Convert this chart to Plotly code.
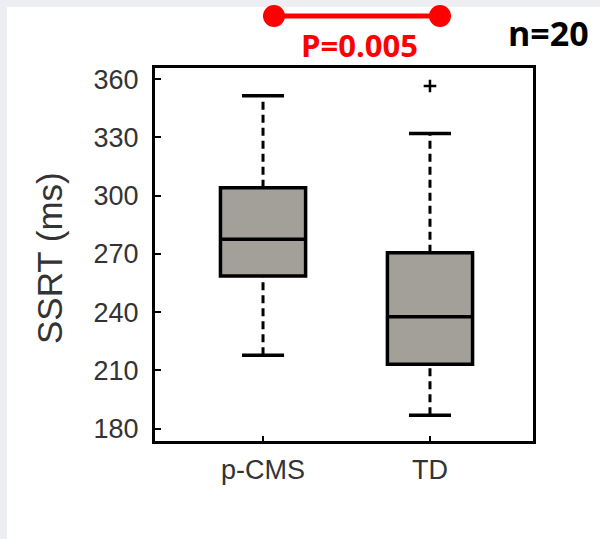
import plotly.graph_objects as go

# ---- data ----
groups = ["p-CMS", "TD"]
xpos = [1, 2]
q1 = [258.6, 213.2]
median = [277.5, 237.6]
q3 = [304.1, 270.6]
lower_whisker = [217.8, 186.9]
upper_whisker = [351.5, 332.0]
outlier_x = [2]
outlier_y = [356.5]
y_ticks = [180, 210, 240, 270, 300, 330, 360]

box_fill = "#a39f99"
fig = go.Figure()

# dashed whiskers and caps
cap_half = 0.126
for i in range(len(groups)):
    x = xpos[i]
    for a, b in [(q3[i], upper_whisker[i]), (lower_whisker[i], q1[i])]:
        fig.add_trace(go.Scatter(x=[x, x], y=[a, b], mode="lines",
                                 line=dict(color="black", width=3, dash="8px,5px"),
                                 showlegend=False, hoverinfo="skip"))
    for w in (upper_whisker[i], lower_whisker[i]):
        fig.add_trace(go.Scatter(x=[x - cap_half, x + cap_half], y=[w, w], mode="lines",
                                 line=dict(color="black", width=3.5),
                                 showlegend=False, hoverinfo="skip"))

fig.add_trace(go.Box(
    x=xpos, q1=q1, median=median, q3=q3,
    lowerfence=q1, upperfence=q3,
    fillcolor=box_fill, line=dict(color="black", width=3.5),
    width=0.51, whiskerwidth=0, boxpoints=False, showlegend=False,
))

fig.add_trace(go.Scatter(x=outlier_x, y=outlier_y, mode="markers",
                         marker=dict(symbol="cross-thin", size=9,
                                     line=dict(color="black", width=2.5)),
                         showlegend=False))

# plot area in pixel terms: left 155, right 533, top 68, bottom 441
L, R, T, B = 155, 533, 68, 441
W, H = R - L, B - T
def px(x):
    return (x - L) / W
def py(y):
    return (B - y) / H

shapes = [
    dict(type="rect", xref="paper", yref="paper", x0=px(7), x1=px(600),
         y0=py(539), y1=py(7), fillcolor="white", line=dict(width=0), layer="below"),
    dict(type="line", xref="paper", yref="paper", x0=px(274), x1=px(440),
         y0=py(16), y1=py(16), line=dict(color="#ff0000", width=5)),
]
for cx in (274, 440):
    shapes.append(dict(type="circle", xref="paper", yref="paper",
                       xsizemode="pixel", ysizemode="pixel",
                       xanchor=px(cx), yanchor=py(16),
                       x0=-11, x1=11, y0=-11, y1=11,
                       fillcolor="#ff0000", line=dict(color="#ff0000", width=0)))

annotations = [
    dict(text="<b>P=0.005</b>", xref="paper", yref="paper", x=px(359), y=py(45),
         showarrow=False, font=dict(family="Open Sans", size=31, color="#ff0000"),
         xanchor="center", yanchor="middle"),
    dict(text="<b>n=20</b>", xref="paper", yref="paper", x=px(548), y=py(33),
         showarrow=False, font=dict(family="Open Sans", size=34, color="black"),
         xanchor="center", yanchor="middle"),
    dict(text="SSRT (ms)", xref="paper", yref="paper", x=px(49), y=py(258),
         showarrow=False, textangle=-90, font=dict(size=35, color="#333333"),
         xanchor="center", yanchor="middle"),
]

fig.update_layout(
    width=600, height=539,
    margin=dict(l=L, r=600 - R, t=T, b=539 - B),
    paper_bgcolor="#eceef2", plot_bgcolor="white",
    shapes=shapes, annotations=annotations,
    font=dict(family="Liberation Sans, Arial", color="#333333"),
    xaxis=dict(range=[0.353, 2.617], tickvals=xpos, ticktext=groups,
               showgrid=False, zeroline=False, showline=True, mirror=True,
               linecolor="black", linewidth=3, ticks="inside", ticklen=5,
               tickwidth=2, tickcolor="black", tickfont=dict(size=27, color="#333"),
               ticklabelstandoff=3),
    yaxis=dict(range=[173.6, 365.8], tickvals=y_ticks,
               showgrid=False, zeroline=False, showline=True, mirror=True,
               linecolor="black", linewidth=3, ticks="inside", ticklen=6,
               tickwidth=2, tickcolor="black", tickfont=dict(size=27, color="#333"),
               ticklabelstandoff=8),
)

fig.write_html("out.html")
